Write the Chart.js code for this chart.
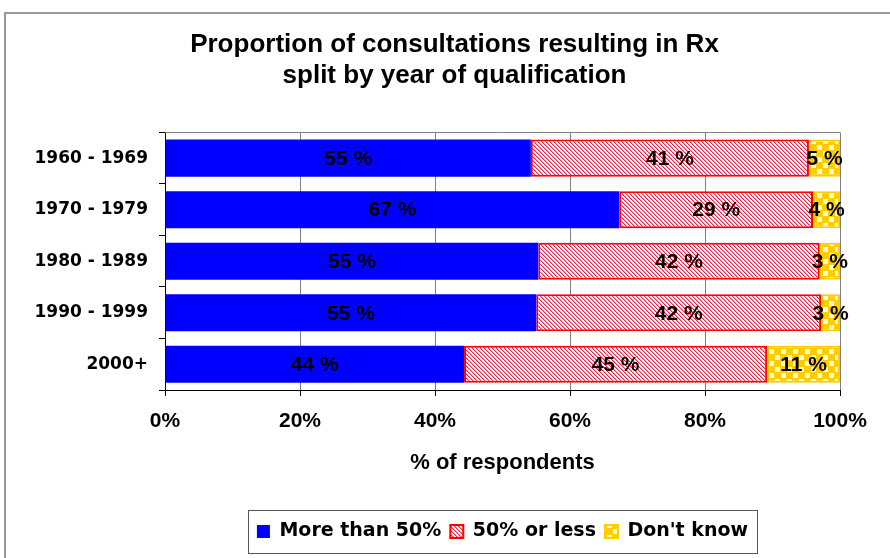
<!DOCTYPE html>
<html>
<head>
<meta charset="utf-8">
<script src="https://cdn.jsdelivr.net/npm/chart.js@4.4.1/dist/chart.umd.min.js"></script>
<style>
  html, body { margin: 0; padding: 0; background: #fff; overflow: hidden; }
  #wrap { position: relative; width: 890px; height: 558px; }
  #frame { position: absolute; left: 4px; top: 12px; width: 1000px; height: 1000px;
           border-left: 2px solid #999; border-top: 2px solid #999; pointer-events: none; }
  canvas { position: absolute; left: 0; top: 0; }
</style>
</head>
<body>
<div id="wrap">
  <canvas id="c" width="890" height="558"></canvas>
  <div id="frame"></div>
</div>
<script>
// ---- data ----
const categories = ['1960 - 1969', '1970 - 1979', '1980 - 1989', '1990 - 1999', '2000+'];
const seriesNames = ['More than 50%', '50% or less', "Don't know"];
const moreThan50 = [54.2, 67.3, 55.3, 55.0, 44.3];
const fiftyOrLess = [41.2, 28.7, 41.7, 42.2, 44.9];
const dontKnow = [4.6, 4.0, 3.0, 2.8, 10.8];
const moreThan50Labels = [55, 67, 55, 55, 44];
const fiftyOrLessLabels = [41, 29, 42, 42, 45];
const dontKnowLabels = [5, 4, 3, 3, 11];
const xTicks = [0, 20, 40, 60, 80, 100];
const titleLines = ['Proportion of consultations resulting in Rx', 'split by year of qualification'];
const xAxisTitle = '% of respondents';

// ---- patterns ----
function hatchPattern() {
  const c = document.createElement('canvas');
  c.width = 4; c.height = 4;
  const g = c.getContext('2d');
  g.fillStyle = '#ffffff'; g.fillRect(0, 0, 4, 4);
  for (let i = 0; i < 4; i++) {
    g.fillStyle = '#ff1a40'; g.fillRect(i, i, 1, 1);
    g.fillStyle = '#ffa0b4'; g.fillRect((i + 1) % 4, i, 1, 1);
  }
  return g.createPattern(c, 'repeat');
}
function checkerPattern() {
  const c = document.createElement('canvas');
  c.width = 12; c.height = 12;
  const g = c.getContext('2d');
  g.fillStyle = '#ffcc00'; g.fillRect(0, 0, 12, 12);
  g.fillStyle = '#ffffcc'; g.fillRect(1, 1, 5, 5); g.fillRect(7, 7, 5, 5);
  return g.createPattern(c, 'repeat');
}

const labelSets = [moreThan50Labels, fiftyOrLessLabels, dontKnowLabels];

const dataLabelPlugin = {
  id: 'segLabels',
  afterDatasetsDraw(chart) {
    const ctx = chart.ctx;
    ctx.save();
    ctx.font = 'bold 21px "Liberation Sans", Arial, sans-serif';
    ctx.fillStyle = '#000';
    ctx.textAlign = 'center';
    ctx.textBaseline = 'middle';
    chart.data.datasets.forEach((ds, i) => {
      const meta = chart.getDatasetMeta(i);
      meta.data.forEach((el, j) => {
        const cx = (el.x + el.base) / 2;
        ctx.fillText(labelSets[i][j] + ' %', cx, el.y + 1);
      });
    });
    ctx.restore();
  }
};

const framePlugin = {
  id: 'frameLines',
  afterUpdate(chart) {
    const lg = chart.legend;
    if (lg) {
      const target = (chart.chartArea.left + chart.chartArea.right) / 2;
      const shift = target - (lg.left + lg.right) / 2;
      lg.left += shift; lg.right += shift;
      lg.adjustHitBoxes();
    }
    const tb = chart.titleBlock;
    if (tb) {
      const shiftT = 454.5 - (tb.left + tb.right) / 2;
      tb.left += shiftT; tb.right += shiftT;
    }
  },
  beforeDatasetsDraw(chart) {
    const {ctx, chartArea: a} = chart;
    ctx.save();
    ctx.strokeStyle = '#808080';
    ctx.lineWidth = 1;
    ctx.beginPath();
    ctx.moveTo(a.left, Math.round(a.top) + 0.5);
    ctx.lineTo(a.right, Math.round(a.top) + 0.5);
    ctx.stroke();
    ctx.restore();
  },
  afterDraw(chart) {
    const lg = chart.legend;
    if (!lg) return;
    const lw = (lg.lineWidths && lg.lineWidths[0]) ? lg.lineWidths[0] : (lg.right - lg.left);
    const center = (lg.left + lg.right) / 2;
    const l = Math.round(center - lw / 2 - 4) + 0.5;
    const r = Math.round(center + lw / 2 + 4) + 0.5;
    const t = Math.round(lg.top - 3) + 0.5;
    const b = Math.round(lg.bottom + 2) + 0.5;
    const ctx = chart.ctx;
    ctx.save();
    ctx.strokeStyle = '#555';
    ctx.lineWidth = 1;
    ctx.strokeRect(l, t, r - l, b - t);
    ctx.restore();
  }
};

const ctx = document.getElementById('c').getContext('2d');
new Chart(ctx, {
  type: 'bar',
  data: {
    labels: categories,
    datasets: [
      { label: seriesNames[0], data: moreThan50, backgroundColor: '#0000ff', borderColor: '#0000ff', borderWidth: 0 },
      { label: seriesNames[1], data: fiftyOrLess, backgroundColor: hatchPattern(), borderColor: '#ff0000', borderWidth: 2 },
      { label: seriesNames[2], data: dontKnow, backgroundColor: checkerPattern(), borderColor: '#ffcc00', borderWidth: 2 }
    ]
  },
  options: {
    indexAxis: 'y',
    responsive: false,
    animation: false,
    devicePixelRatio: 1,
    layout: { padding: { left: 0, right: 50, top: 0, bottom: 7 } },
    datasets: { bar: { barPercentage: 0.72, categoryPercentage: 1.0, borderSkipped: false } },
    scales: {
      x: {
        stacked: true, min: 0, max: 100,
        afterBuildTicks(scale) { scale.ticks = xTicks.map(v => ({ value: v })); },
        afterFit(scale) { scale.height = 123; },
        ticks: {
          callback: v => v + '%',
          color: '#000',
          font: { family: '"Liberation Sans", Arial, sans-serif', size: 21, weight: 'bold' },
          padding: 13, maxRotation: 0
        },
        grid: {
          color: ctx => (ctx.index === 0 ? 'rgba(0,0,0,0)' : '#808080'),
          tickColor: '#000', tickLength: 6, lineWidth: 1
        },
        border: { color: '#000', width: 1 },
        title: {
          display: true, text: xAxisTitle, color: '#000',
          font: { family: '"Liberation Sans", Arial, sans-serif', size: 22, weight: 'bold' },
          padding: { top: 0, bottom: 37 }
        }
      },
      y: {
        stacked: true,
        afterFit(scale) { scale.width = 165; },
        ticks: {
          color: '#000',
          font: { family: '"DejaVu Sans", sans-serif', size: 17, weight: 'bold' },
          padding: 11
        },
        grid: { drawOnChartArea: false, offset: true, tickColor: '#000', tickLength: 6 },
        border: { color: '#000', width: 1 }
      }
    },
    plugins: {
      title: {
        display: true, text: titleLines, color: '#000',
        font: { family: '"Liberation Sans", Arial, sans-serif', size: 26, weight: 'bold', lineHeight: 1.2 },
        padding: { top: 29, bottom: 41 }
      },
      legend: {
        position: 'bottom',
        labels: {
          color: '#000',
          font: { family: '"DejaVu Sans", sans-serif', size: 19, weight: 'bold' },
          boxWidth: 13, boxHeight: 13, padding: 9
        }
      },
      tooltip: { enabled: false }
    }
  },
  plugins: [dataLabelPlugin, framePlugin]
});
</script>
</body>
</html>
